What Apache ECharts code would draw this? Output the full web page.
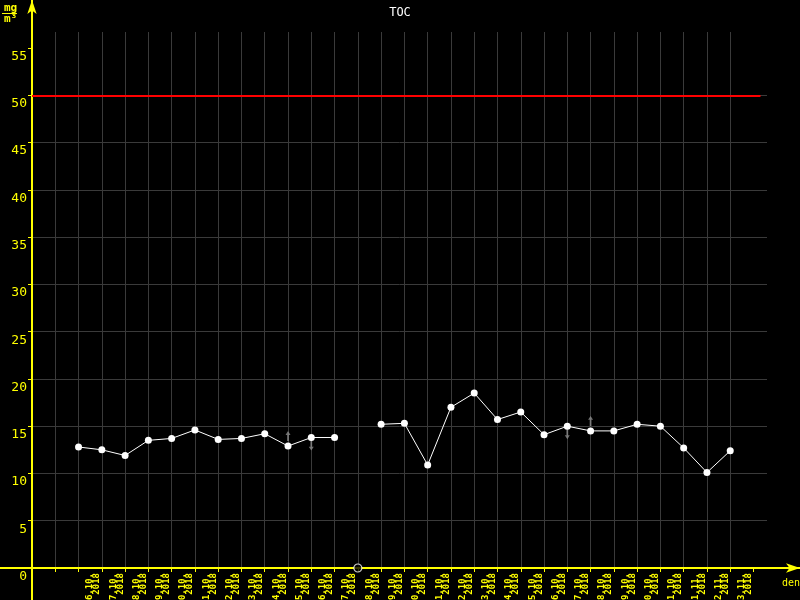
<!DOCTYPE html>
<html>
<head>
<meta charset="utf-8">
<script src="https://cdn.jsdelivr.net/npm/echarts@6/dist/echarts.min.js"></script>
<style>
  html, body { margin: 0; padding: 0; background: #000; }
  #chart { width: 800px; height: 600px; }
</style>
</head>
<body>
<div id="chart"></div>
<script>
// dny mereni (index 0 = 6.10.2018)
const dayLabels = ["6.10.", "7.10.", "8.10.", "9.10.", "10.10.", "11.10.", "12.10.", "13.10.", "14.10.", "15.10.",
  "16.10.", "17.10.", "18.10.", "19.10.", "20.10.", "21.10.", "22.10.", "23.10.", "24.10.", "25.10.",
  "26.10.", "27.10.", "28.10.", "29.10.", "30.10.", "31.10.", "1.11.", "2.11.", "3.11."];
const yearLabel = "2018";
// TOC mg/m3, null = chybi hodnota
const tocValues = [12.8, 12.5, 11.9, 13.5, 13.7, 14.6, 13.6, 13.7, 14.2, 12.9,
  13.8, 13.8, null, 15.2, 15.3, 10.9, 17.0, 18.5, 15.7, 16.5,
  14.1, 15.0, 14.5, 14.5, 15.2, 15.0, 12.7, 10.1, 12.4];
const limitValue = 50;
const yTicks = [0, 5, 10, 15, 20, 25, 30, 35, 40, 45, 50, 55];
const upArrowDays = [9, 22];
const downArrowDays = [10, 21];

const yellow = "#ffff00";
const gridGray = "#3a3a3a";
const mono = "DejaVu Sans Mono";
const arrowPath = "path://M2,0 L4,3.5 L2.7,3.5 L2.7,9 L1.3,9 L1.3,3.5 L0,3.5 Z";

const lineData = tocValues.map((v, i) => [i, v == null ? "-" : v]);
const missingData = tocValues.map((v, i) => (v == null ? [i, 0] : null)).filter(d => d);
const upData = upArrowDays.map(i => [i, tocValues[i]]);
const downData = downArrowDays.map(i => [i, tocValues[i]]);
const xTickValues = [];
for (let i = -1; i < 30; i++) xTickValues.push(i);
const xLabelValues = dayLabels.map((d, i) => i);

const myChart = echarts.init(document.getElementById("chart"));
const option = {
  backgroundColor: "#000",
  animation: false,
  title: {
    text: "TOC",
    left: "center",
    top: 2,
    textStyle: { color: "#fff", fontSize: 12, fontWeight: "normal", fontFamily: mono }
  },
  grid: [
    { left: 32, right: 33, top: 32, bottom: 32, outerBoundsMode: "none", containLabel: false },
    { left: 0, right: 0, top: 0, bottom: 0, outerBoundsMode: "none", containLabel: false }
  ],
  xAxis: [
    {
      type: "value",
      gridIndex: 0,
      min: -2,
      max: 29.58,
      interval: 1,
      axisLine: { show: false, onZero: false },
      axisTick: { show: true, length: 4, customValues: xTickValues, lineStyle: { color: yellow, width: 1 } },
      axisLabel: {
        customValues: xLabelValues,
        rotate: 90,
        margin: 5,
        color: yellow,
        fontFamily: mono,
        fontSize: 9,
        fontWeight: "bold",
        lineHeight: 7,
        verticalAlign: "top",
        padding: [8, 0, 0, 0],
        formatter: v => dayLabels[v] + "\n" + yearLabel
      },
      splitLine: { show: true, showMaxLine: false, lineStyle: { color: gridGray, width: 1 } },
      name: "den",
      nameLocation: "end",
      nameGap: 15,
      nameTextStyle: { color: yellow, fontFamily: mono, fontSize: 10, align: "left", verticalAlign: "top", padding: [10, 0, 0, 0] }
    },
    {
      type: "value",
      gridIndex: 1,
      min: -32,
      max: 768,
      axisLine: { show: true, onZero: true, symbol: ["none", "arrow"], symbolSize: [7, 14], lineStyle: { color: yellow, width: 2 } },
      axisTick: { show: false },
      axisLabel: { show: false },
      splitLine: { show: false }
    }
  ],
  yAxis: [
    {
      type: "value",
      gridIndex: 0,
      min: 0,
      max: 56.69,
      interval: 5,
      axisLine: { show: false, onZero: false },
      axisTick: { show: true, length: 4, customValues: yTicks, lineStyle: { color: yellow, width: 1 } },
      axisLabel: {
        customValues: yTicks,
        color: yellow,
        fontFamily: mono,
        fontSize: 13,
        margin: 5,
        verticalAlign: "top",
        padding: [2, 0, 0, 0]
      },
      splitLine: { show: true, showMaxLine: false, lineStyle: { color: gridGray, width: 1 } }
    },
    {
      type: "value",
      gridIndex: 1,
      min: -32,
      max: 568,
      axisLine: { show: true, onZero: true, symbol: ["none", "arrow"], symbolSize: [7, 14], lineStyle: { color: yellow, width: 2 } },
      axisTick: { show: false },
      axisLabel: { show: false },
      splitLine: { show: false }
    }
  ],
  graphic: [
    { type: "text", left: 4, top: 3, style: { text: "mg", fill: yellow, font: "bold 11px " + mono } },
    { type: "rect", shape: { x: 2, y: 13, width: 15, height: 1 }, style: { fill: yellow } },
    { type: "text", left: 4, top: 14, style: { text: "m³", fill: yellow, font: "bold 11px " + mono } }
  ],
  series: [
    {
      type: "scatter",
      xAxisIndex: 0,
      yAxisIndex: 0,
      data: upData,
      symbol: arrowPath,
      symbolSize: [5, 10],
      symbolOffset: [0, -10],
      itemStyle: { color: "#8c8c8c" },
      z: 2
    },
    {
      type: "scatter",
      xAxisIndex: 0,
      yAxisIndex: 0,
      data: downData,
      symbol: arrowPath,
      symbolSize: [5, 10],
      symbolRotate: 180,
      symbolOffset: [0, 8],
      itemStyle: { color: "#8c8c8c" },
      z: 2
    },
    {
      type: "line",
      name: "TOC",
      xAxisIndex: 0,
      yAxisIndex: 0,
      data: lineData,
      connectNulls: false,
      symbol: "circle",
      symbolSize: 7,
      showAllSymbol: true,
      lineStyle: { color: "#fff", width: 1 },
      itemStyle: { color: "#fff" },
      z: 3,
      markLine: {
        silent: true,
        symbol: ["none", "none"],
        label: { show: false },
        lineStyle: { color: "#ff0000", width: 2, type: "solid" },
        data: [[{ coord: [-2, limitValue] }, { coord: [29.3, limitValue] }]]
      }
    },
    {
      type: "scatter",
      xAxisIndex: 0,
      yAxisIndex: 0,
      data: missingData,
      clip: false,
      symbol: "circle",
      symbolSize: 8,
      itemStyle: { color: "#000", borderColor: "#fff", borderWidth: 1.2 },
      z: 10
    }
  ]
};
myChart.setOption(option, true);
</script>
</body>
</html>
